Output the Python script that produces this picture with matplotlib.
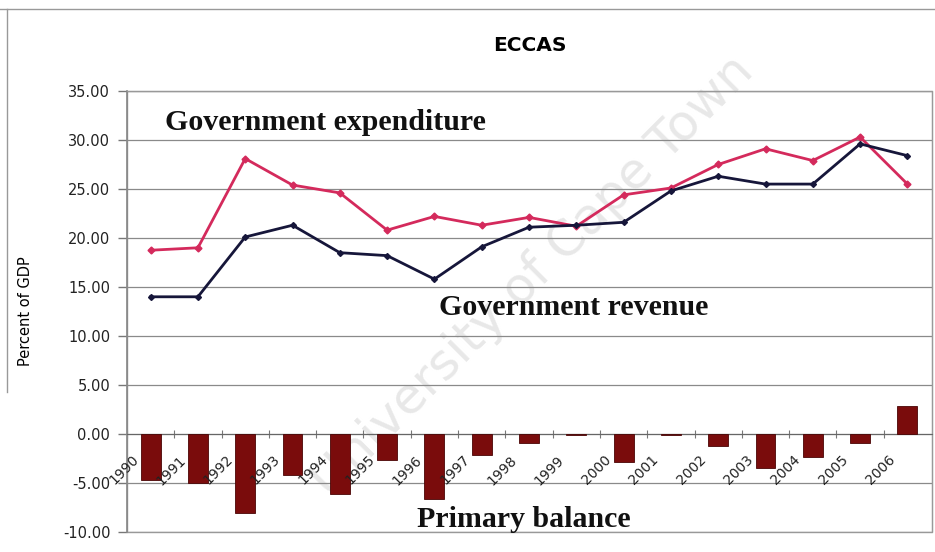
import numpy as np
import matplotlib
matplotlib.use("Agg")
import matplotlib.pyplot as plt
from matplotlib.lines import Line2D
from matplotlib.patches import Rectangle

years = [str(y) for y in range(1990, 2007)]
expenditure = [18.75, 19.0, 28.1, 25.4, 24.6, 20.8, 22.2, 21.3, 22.1, 21.2,
               24.4, 25.1, 27.5, 29.1, 27.9, 30.3, 25.5]
revenue = [14.0, 14.0, 20.1, 21.3, 18.5, 18.2, 15.8, 19.1, 21.1, 21.3,
           21.6, 24.8, 26.3, 25.5, 25.5, 29.6, 28.4]
primary_balance = [-4.7, -5.0, -8.1, -4.2, -6.1, -2.7, -6.6, -2.1, -0.9, -0.1,
                   -2.9, -0.1, -1.2, -3.5, -2.3, -0.9, 2.9]
yticks = [-10, -5, 0, 5, 10, 15, 20, 25, 30, 35]

x = np.arange(len(years))

fig = plt.figure(figsize=(9.35, 5.52), dpi=100)
ax = fig.add_axes([0.1358, 0.0362, 0.861, 0.799])
ax.patch.set_alpha(0)

# ── watermark (faint, behind the data) ──
fig.text(0.57, 0.5, "University of Cape Town", fontsize=36, color="#e8e8e8",
         rotation=45, ha="center", va="center", zorder=-1)

# ── outer frame fragments ──
fig.add_artist(Line2D([0, 1], [0.984, 0.984], transform=fig.transFigure,
                      color="#999999", linewidth=1.0))
fig.add_artist(Line2D([0.008, 0.008], [0.29, 0.984], transform=fig.transFigure,
                      color="#999999", linewidth=1.0))

ax.bar(x, primary_balance, width=0.42, color="#7a0c0c", edgecolor="#4a0505",
       linewidth=0.6, zorder=3)
ax.plot(x, expenditure, color="#d42a5c", linewidth=2.0, marker="D",
        markersize=3.5, zorder=4)
ax.plot(x, revenue, color="#16163a", linewidth=2.0, marker="D",
        markersize=3.0, zorder=4)

ax.set_xlim(-0.46, 16.52)
ax.set_ylim(-10, 35)
ax.set_yticks(yticks)
ax.set_yticklabels([f"{v:.2f}" for v in yticks], fontsize=10.5,
                   color="#222222")
ax.tick_params(axis="y", length=6.5, width=1.0, pad=5.5, color="#777777")
ax.yaxis.grid(True, color="#8a8a8a", linewidth=0.9, zorder=1)
ax.set_axisbelow(True)

# plot-area box
ax.add_patch(Rectangle((0, 0), 1, 1, transform=ax.transAxes, fill=False,
                       edgecolor="#999999", linewidth=1.0, clip_on=False,
                       zorder=2))

# category axis at zero
ax.spines["bottom"].set_position(("data", 0))
ax.spines["bottom"].set_color("#666666")
ax.set_xticks(np.arange(-0.5, len(years) - 0.9, 1.0))
ax.set_xticklabels([])
ax.tick_params(axis="x", direction="inout", length=6, color="#777777")
for sp in ["top", "right"]:
    ax.spines[sp].set_color("#999999")
ax.spines["left"].set_color("#888888")
ax.spines["left"].set_linewidth(1.2)

for i, lab in enumerate(years):
    ax.text(i - 0.2, -1.9, lab, rotation=45, ha="right", va="top",
            fontsize=10, color="#222222", zorder=5)

ax.set_ylabel("Percent of GDP", fontsize=10.5)
ax.yaxis.set_label_coords(-0.117, 0.5)

ax.set_title("ECCAS", fontsize=14.5, fontweight="bold", pad=29)

serif = dict(family="Liberation Serif", fontweight="bold", fontsize=21.5,
             color="#111111", zorder=6)
ax.text(0.3, 31.8, "Government expenditure", va="center", ha="left", **serif)
ax.text(6.09, 12.9, "Government revenue", va="center", ha="left", **serif)
ax.text(5.63, -8.7, "Primary balance", va="center", ha="left", **serif)

fig.savefig("out.png", dpi=100)
plt.close()
